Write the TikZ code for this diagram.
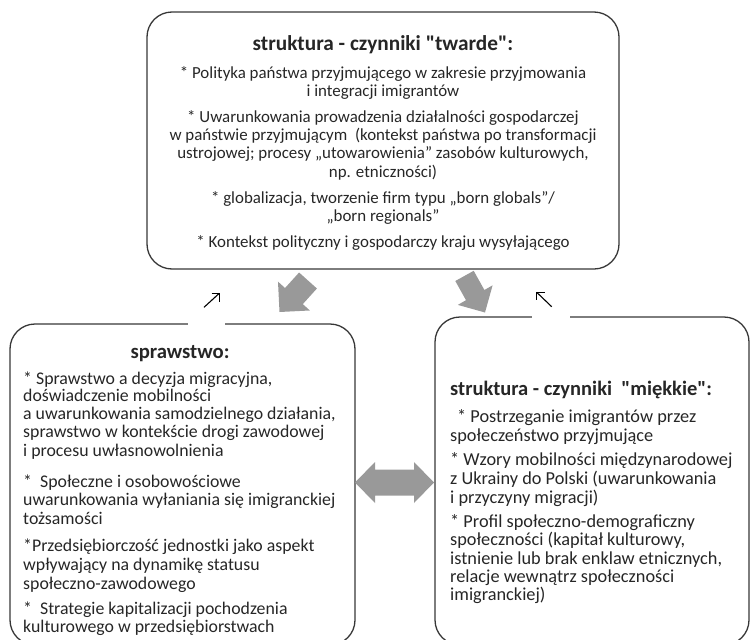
\documentclass[tikz,border=0pt]{standalone}
\usepackage{fontspec}
\setmainfont{Carlito}[Ligatures=TeXOff]
\definecolor{arrowgray}{RGB}{153,153,153}
\definecolor{inkcol}{RGB}{38,38,38}
\definecolor{bordercol}{RGB}{55,55,55}
\begin{document}
\begin{tikzpicture}[x=1pt,y=-1pt,
  panel/.style={draw=bordercol,line width=1.3pt,rounded corners=25pt,inner sep=0pt},
  txtT/.style={inner sep=0pt,text=inkcol,font=\fontsize{16.9}{18}\selectfont},
  txtL/.style={inner sep=0pt,text=inkcol,font=\fontsize{17.8}{18}\selectfont},
  txtR/.style={inner sep=0pt,text=inkcol,font=\fontsize{18.3}{18}\selectfont},
  ttlT/.style={inner sep=0pt,text=inkcol,font=\fontsize{21.3}{22}\selectfont\bfseries},
  ttlL/.style={inner sep=0pt,text=inkcol,font=\fontsize{20.7}{22}\selectfont\bfseries},
  ttlR/.style={inner sep=0pt,text=inkcol,font=\fontsize{20.5}{22}\selectfont\bfseries},
  fatfill/.style={fill=arrowgray,draw=none},
  thinarrow/.style={draw=black,line width=1.1pt}]
\clip (0,0) rectangle (750,640);
% boxes
\node[panel,minimum width=472pt,minimum height=257pt] (top) at (383,140.5) {};
\node[panel,minimum width=345pt,minimum height=321pt] (left) at (182.5,484.5) {};
\node[panel,minimum width=314pt,minimum height=328pt] (right) at (592,481) {};
% white gaps in top borders
\fill[white] (188,284) rectangle (225,330);
\fill[white] (532,282) rectangle (570,322);
% small arrows
\coordinate (a1s) at (204,307.3);
\coordinate (a1e) at (219.3,293.3);
\draw[thinarrow] (a1s) -- (a1e);
\draw[thinarrow] (211.5,293.3) -- (a1e) -- (219.3,301.5);
\coordinate (a2s) at (551.7,306.7);
\coordinate (a2e) at (536.7,292.3);
\draw[thinarrow] (a2s) -- (a2e);
\draw[thinarrow] (544.5,292.3) -- (a2e) -- (536.7,300);
% fat arrows
\fill[fatfill] (299.1,272.5) -- (316.9,288.5) -- (302.81,304.11) -- (309.86,310.48)
  -- (279.5,312) -- (277.98,281.64) -- (285.03,288.01) -- cycle;
\fill[fatfill] (473.7,270.8) -- (484.4,290.0) -- (492.6,285.3) -- (485,312.5)
  -- (457.8,304.9) -- (466.0,300.2) -- (455.3,281.0) -- cycle;
\fill[fatfill] (355,482.5) -- (375,462) -- (375,469.5) -- (414,469.5) -- (414,462)
  -- (434,482.5) -- (414,503) -- (414,495.5) -- (375,495.5) -- (375,503) -- cycle;
% top box text
\node[ttlT,anchor=base] (t0) at (383,50) {struktura - czynniki "twarde":};
\node[txtT,anchor=base] (t1) at (383,78) {* Polityka państwa przyjmującego w zakresie przyjmowania};
\node[txtT,anchor=base] (t2) at (383,96.3) {i integracji imigrantów};
\node[txtT,anchor=base] (t3) at (383,122) {* Uwarunkowania prowadzenia działalności gospodarczej};
\node[txtT,anchor=base] (t4) at (383,140.3) {w państwie przyjmującym\ \ (kontekst państwa po transformacji};
\node[txtT,anchor=base] (t5) at (383,158.6) {ustrojowej; procesy „utowarowienia” zasobów kulturowych,};
\node[txtT,anchor=base] (t6) at (383,177) {np. etniczności)};
\node[txtT,anchor=base] (t7) at (383,203) {* globalizacja, tworzenie firm typu „born globals”/};
\node[txtT,anchor=base] (t8) at (383,221.3) {„born regionals”};
\node[txtT,anchor=base] (t9) at (383,247) {* Kontekst polityczny i gospodarczy kraju wysyłającego};
% left box text
\node[ttlL,anchor=base] (l0) at (180,358) {sprawstwo:};
\node[txtL,anchor=base west] (l1) at (23,384) {* Sprawstwo a decyzja migracyjna,};
\node[txtL,anchor=base west] (l2) at (23,401.3) {doświadczenie mobilności};
\node[txtL,anchor=base west] (l3) at (23,419.7) {a uwarunkowania samodzielnego działania,};
\node[txtL,anchor=base west] (l4) at (23,437.3) {sprawstwo w kontekście drogi zawodowej};
\node[txtL,anchor=base west] (l5) at (23,456.3) {i procesu uwłasnowolnienia};
\node[txtL,anchor=base west] (l6) at (23,487.3) {*\ \ Społeczne i osobowościowe};
\node[txtL,anchor=base west] (l7) at (23,505.7) {uwarunkowania wyłaniania się imigranckiej};
\node[txtL,anchor=base west] (l8) at (23,524) {tożsamości};
\node[txtL,anchor=base west] (l9) at (23,551.7) {*Przedsiębiorczość jednostki jako aspekt};
\node[txtL,anchor=base west] (l10) at (23,570.7) {wpływający na dynamikę statusu};
\node[txtL,anchor=base west] (l11) at (23,589) {społeczno-zawodowego};
\node[txtL,anchor=base west] (l12) at (23,614) {*\ \ Strategie kapitalizacji pochodzenia};
\node[txtL,anchor=base west] (l13) at (23,632.3) {kulturowego w przedsiębiorstwach};
% right box text
\node[ttlR,anchor=base west] (r0) at (450,395) {struktura - czynniki\ \ "miękkie":};
\node[txtR,anchor=base west] (r1) at (457,422.3) {* Postrzeganie imigrantów przez};
\node[txtR,anchor=base west] (r2) at (450,441.7) {społeczeństwo przyjmujące};
\node[txtR,anchor=base west] (r3) at (450,465.7) {* Wzory mobilności międzynarodowej};
\node[txtR,anchor=base west] (r4) at (450,484.3) {z Ukrainy do Polski (uwarunkowania};
\node[txtR,anchor=base west] (r5) at (450,503) {i przyczyny migracji)};
\node[txtR,anchor=base west] (r6) at (450,527.3) {* Profil społeczno-demograficzny};
\node[txtR,anchor=base west] (r7) at (450,545.7) {społeczności (kapitał kulturowy,};
\node[txtR,anchor=base west] (r8) at (450,564) {istnienie lub brak enklaw etnicznych,};
\node[txtR,anchor=base west] (r9) at (450,582.3) {relacje wewnątrz społeczności};
\node[txtR,anchor=base west] (r10) at (450,600.7) {imigranckiej)};
\end{tikzpicture}
\end{document}
